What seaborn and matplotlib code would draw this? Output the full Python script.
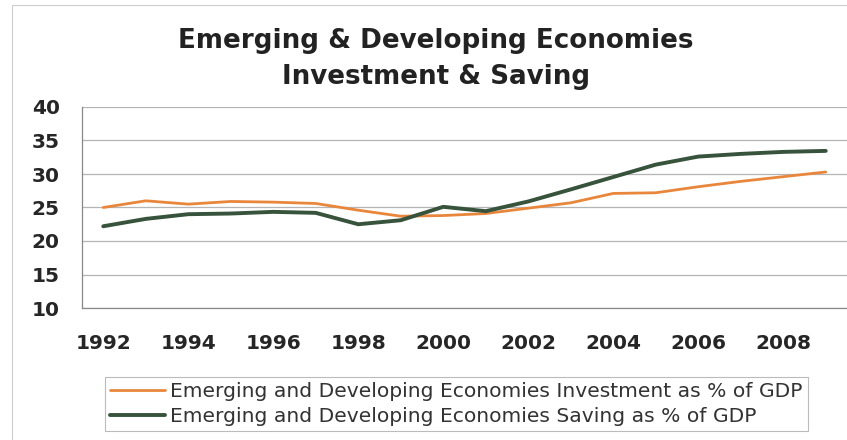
import matplotlib
matplotlib.use("Agg")
import matplotlib.pyplot as plt
from matplotlib.patches import Rectangle
import seaborn as sns
import pandas as pd

years = list(range(1992, 2010))
investment = [25.0, 26.0, 25.5, 25.9, 25.8, 25.6, 24.6, 23.7, 23.8, 24.1,
              24.9, 25.7, 27.1, 27.2, 28.1, 28.9, 29.6, 30.3]
saving = [22.2, 23.3, 24.0, 24.1, 24.35, 24.2, 22.5, 23.1, 25.1, 24.45,
          25.9, 27.7, 29.55, 31.4, 32.6, 33.0, 33.3, 33.45]
series_names = [
    "Emerging and Developing Economies Investment as % of GDP",
    "Emerging and Developing Economies Saving as % of GDP",
]
title_lines = ["Emerging & Developing Economies", "Investment & Saving"]
y_ticks = [10, 15, 20, 25, 30, 35, 40]
x_labels = [str(y) for y in range(1992, 2009, 2)]

sns.set_theme(style="white")
plt.rcParams["font.family"] = ["DejaVu Sans"]

df = pd.DataFrame({
    "year": years * 2,
    "value": investment + saving,
    "series": [series_names[0]] * len(years) + [series_names[1]] * len(years),
})

W, H = 847, 440
fig = plt.figure(figsize=(W / 100, H / 100), dpi=100)
renderer = fig.canvas.get_renderer()


def fit_size(text, target_px, weight="normal", base=12.0):
    """Font size (pt) at which `text` spans target_px pixels."""
    t = fig.text(0, 0, text, fontsize=base, fontweight=weight)
    w = t.get_window_extent(renderer).width
    t.remove()
    return base * target_px / w


ax = fig.add_axes([82 / W, 1 - 308 / H, (W - 82) / W, (308 - 107) / H])

palette = {series_names[0]: "#E8873C", series_names[1]: "#37533C"}
sns.lineplot(data=df, x="year", y="value", hue="series", palette=palette,
             ax=ax, legend=False)
ax.lines[0].set_linewidth(2.0)
ax.lines[1].set_linewidth(2.8)

ax.set_xlim(1991.5, 2009.5)
ax.set_ylim(10, 40)
ax.set_yticks(y_ticks)
ax.set_yticklabels([str(t) for t in y_ticks], fontsize=14.5, fontweight="bold",
                   color="#262626")
ax.set_xticks(list(range(1992, 2009, 2)))
ax.set_xticklabels(x_labels, fontsize=14.5, fontweight="bold", color="#262626")
ax.set_xticks([1991.5 + 2 * i for i in range(10)], minor=True)
ax.tick_params(axis="x", which="major", length=0, pad=19)
ax.tick_params(axis="x", which="minor", length=5, direction="inout",
               color="#888888", width=0.8)
ax.tick_params(axis="y", which="major", length=4, direction="out",
               color="#888888", width=0.8, pad=12)
ax.set_xlabel("")
ax.set_ylabel("")

ax.grid(axis="y", color="#B4B4B4", linewidth=0.9)
ax.set_axisbelow(True)
for side in ["top", "right"]:
    ax.spines[side].set_visible(False)
for side in ["left", "bottom"]:
    ax.spines[side].set_color("#888888")
    ax.spines[side].set_linewidth(0.9)

title_fs = fit_size(title_lines[0], 512, weight="bold")
fig.text(436 / W, 1 - 41.5 / H, title_lines[0], ha="center", va="center",
         fontsize=title_fs, fontweight="bold", color="#222222")
fig.text(436 / W, 1 - 76.5 / H, title_lines[1], ha="center", va="center",
         fontsize=title_fs, fontweight="bold", color="#222222")

leg_fs = fit_size(series_names[0], 628)
leg_px = leg_fs * 100 / 72
handles = ax.lines[:2]
leg = fig.legend(handles, series_names, loc="upper left", ncol=1,
                 bbox_to_anchor=(105 / W, 1 - 377 / H), fontsize=leg_fs,
                 frameon=True, fancybox=False, handlelength=55 / leg_px,
                 handletextpad=5 / leg_px, labelspacing=0.3,
                 borderpad=0.25, borderaxespad=0, labelcolor="#333333")
leg.get_frame().set_edgecolor("#AAAAAA")
leg.get_frame().set_linewidth(0.8)

fig.patches.append(Rectangle((12 / W, -0.01), 1.0, 1 - 5 / H + 0.01,
                             transform=fig.transFigure, fill=False,
                             edgecolor="#CCCCCC", linewidth=0.8))

fig.savefig("out.png", dpi=100)
